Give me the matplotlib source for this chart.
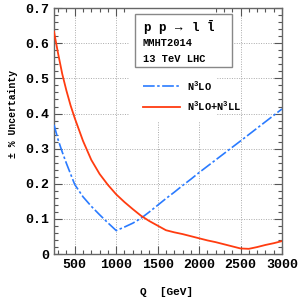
import matplotlib
matplotlib.use("Agg")
import matplotlib.pyplot as plt
from matplotlib.ticker import MultipleLocator, FuncFormatter
from matplotlib.patches import Rectangle

plt.rcParams['font.family'] = ['Liberation Mono', 'DejaVu Sans Mono']
plt.rcParams['mathtext.fontset'] = 'custom'
plt.rcParams['mathtext.rm'] = 'Liberation Mono:bold'
plt.rcParams['mathtext.it'] = 'Liberation Mono:bold'
plt.rcParams['mathtext.bf'] = 'Liberation Mono:bold'

# N3LO scale uncertainty
q_n3lo = [250, 300, 350, 400, 450, 500, 600, 700, 800, 900, 1000,
          1100, 1200, 1300, 1400, 1500, 1600, 1700, 1800, 1900, 2000, 2500, 3000]
unc_n3lo = [0.368, 0.325, 0.29, 0.258, 0.228, 0.198, 0.163, 0.136, 0.112, 0.089, 0.067,
            0.077, 0.088, 0.102, 0.120, 0.139, 0.158, 0.176, 0.195, 0.213, 0.232, 0.322, 0.413]

# N3LO+N3LL scale uncertainty
q_res = [250, 300, 350, 400, 450, 500, 600, 700, 800, 900, 1000, 1100, 1200, 1300, 1400,
         1500, 1600, 1700, 1800, 1900, 2000, 2100, 2200, 2300, 2400, 2500, 2600, 2700,
         2800, 2900, 3000]
unc_res = [0.633, 0.57, 0.512, 0.465, 0.423, 0.387, 0.322, 0.268, 0.228, 0.197, 0.170,
           0.148, 0.128, 0.109, 0.094, 0.081, 0.068, 0.062, 0.057, 0.051, 0.045, 0.039,
           0.034, 0.028, 0.022, 0.016, 0.015, 0.020, 0.026, 0.031, 0.037]

blue = '#2a7bff'
red = '#ff3c10'

fig = plt.figure(figsize=(3, 3), dpi=100)
ax = fig.add_axes([0.18, 0.153, 0.76, 0.82])

ax.plot(q_n3lo, unc_n3lo, color=blue, lw=1.2, dashes=(7, 1.5, 1.5, 1.5), zorder=3)
ax.plot(q_res, unc_res, color=red, lw=1.3, zorder=3)

ax.set_xlim(250, 3000)
ax.set_ylim(0, 0.7)
ax.xaxis.set_major_locator(MultipleLocator(500))
ax.xaxis.set_minor_locator(MultipleLocator(100))
ax.yaxis.set_major_locator(MultipleLocator(0.1))
ax.yaxis.set_minor_locator(MultipleLocator(0.02))
ax.yaxis.set_major_formatter(FuncFormatter(lambda v, p: '0' if abs(v) < 1e-9 else '%.1f' % v))

ax.tick_params(which='both', direction='in', top=True, right=True, colors='#555555',
               labelcolor='black', width=0.8)
ax.tick_params(which='major', length=6)
ax.tick_params(which='minor', length=3)
for lab in ax.get_xticklabels() + ax.get_yticklabels():
    lab.set_fontweight('bold')
    lab.set_fontsize(9.5)
for s in ax.spines.values():
    s.set_color('#666666')
    s.set_linewidth(1.0)

ax.grid(True, which='major', color='#aaaaaa', ls=(0, (1, 1.5)), lw=0.7)
ax.set_axisbelow(True)

# white area behind the legend
ax.add_patch(Rectangle((1150, 0.375), 1050, 0.325, transform=ax.transData,
                       facecolor='white', edgecolor='none', zorder=1.5))
ax.add_patch(Rectangle((1226, 0.532), 1170, 0.152, facecolor='white',
                       edgecolor='#888888', lw=1.0, zorder=2))
ax.text(1320, 0.645, r'p p $\rightarrow$ l $\bar{\mathrm{l}}$', fontsize=9, fontweight='bold', va='center')
ax.text(1320, 0.600, 'MMHT2014', fontsize=7.5, fontweight='bold', va='center')
ax.text(1320, 0.555, '13 TeV LHC', fontsize=7.5, fontweight='bold', va='center')

ax.plot([1320, 1770], [0.478, 0.478], color=blue, lw=1.2, dashes=(7, 1.5, 1.5, 1.5), zorder=3)
ax.plot([1320, 1770], [0.42, 0.42], color=red, lw=1.3, zorder=3)
ax.text(1850, 0.478, r'N$^3$LO', fontsize=7.5, fontweight='bold', va='center')
ax.text(1850, 0.42, r'N$^3$LO+N$^3$LL', fontsize=7.5, fontweight='bold', va='center')

fig.text(0.045, 0.62, '\u00b1 % Uncertainty', rotation=90, fontsize=7, fontweight='bold',
         ha='center', va='center')
fig.text(0.555, 0.027, 'Q  [GeV]', fontsize=8, fontweight='bold', ha='center', va='center')

fig.savefig('out.png', dpi=100)
